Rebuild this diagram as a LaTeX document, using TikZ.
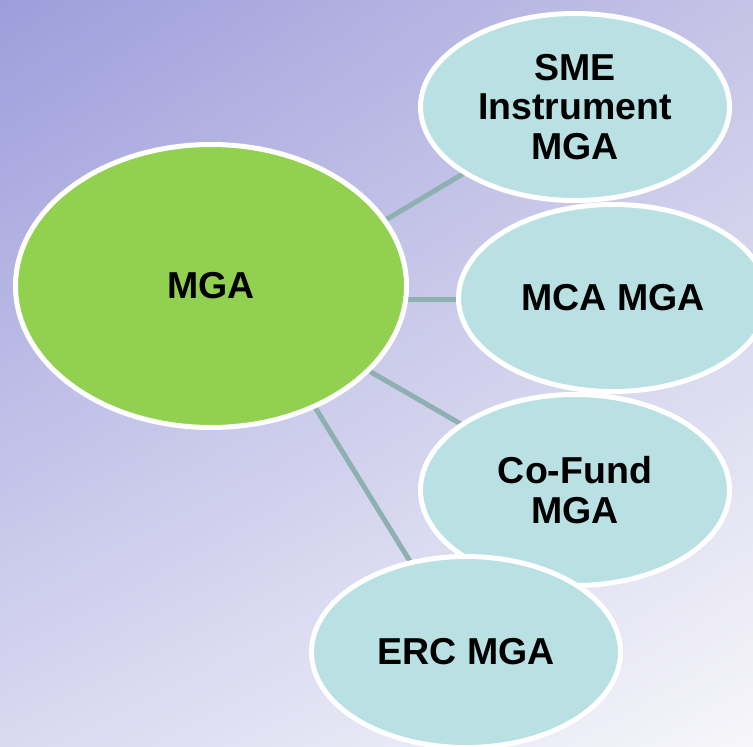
\documentclass[tikz,border=0pt]{standalone}
\usepackage{fontspec}
\setmainfont{Liberation Sans}
\usetikzlibrary{shapes.geometric,shadings}
\pgfdeclarelayer{bg}
\pgfdeclarelayer{lines}
\pgfsetlayers{bg,lines,main}
\definecolor{bgTL}{RGB}{157,157,220}
\definecolor{bgTR}{RGB}{197,195,230}
\definecolor{bgBL}{RGB}{217,217,241}
\definecolor{bgBR}{RGB}{246,246,250}
\definecolor{mgagreen}{RGB}{146,208,80}
\definecolor{childteal}{RGB}{185,224,226}
\definecolor{conncol}{RGB}{143,176,177}
\tikzset{
  bubble/.style={ellipse, draw=white, line width=5pt, inner sep=0pt, align=center,
    font=\fontsize{37.5}{39.5}\selectfont\bfseries, text=black},
  mainbubble/.style={bubble, fill=mgagreen, minimum width=391pt, minimum height=283pt},
  childbubble/.style={bubble, fill=childteal, minimum width=309pt, minimum height=187pt},
  conn/.style={draw=conncol, line width=5pt}
}
\begin{document}
\begin{tikzpicture}[x=1pt,y=-1pt]
\useasboundingbox (0,0) rectangle (753,747);
\clip (0,0) rectangle (753,747);
\begin{pgfonlayer}{bg}
\shade[upper left=bgTL, upper right=bgTR, lower left=bgBL, lower right=bgBR] (0,0) rectangle (753,747);
\end{pgfonlayer}
\node[mainbubble] (mga) at (211,286) {MGA};
\node[childbubble] (sme) at (575,107) {SME\\Instrument\\MGA};
\node[childbubble] (mca) at (613,298) {MCA MGA};
\node[childbubble, minimum height=191pt] (cofund) at (575,490) {Co-Fund\\MGA};
\node[childbubble, minimum height=191pt] (erc) at (466,652) {ERC MGA};
\coordinate (e1) at (300,271);
\coordinate (e2) at (300,299);
\coordinate (e3) at (300,331);
\coordinate (e4) at (300,383);
\begin{pgfonlayer}{lines}
\draw[conn] (e1) -- (sme.center);
\draw[conn] (e2) -- (mca.center |- e2);
\draw[conn] (e3) -- (cofund.center);
\draw[conn] (e4) -- (erc.center);
\end{pgfonlayer}
\end{tikzpicture}
\end{document}
